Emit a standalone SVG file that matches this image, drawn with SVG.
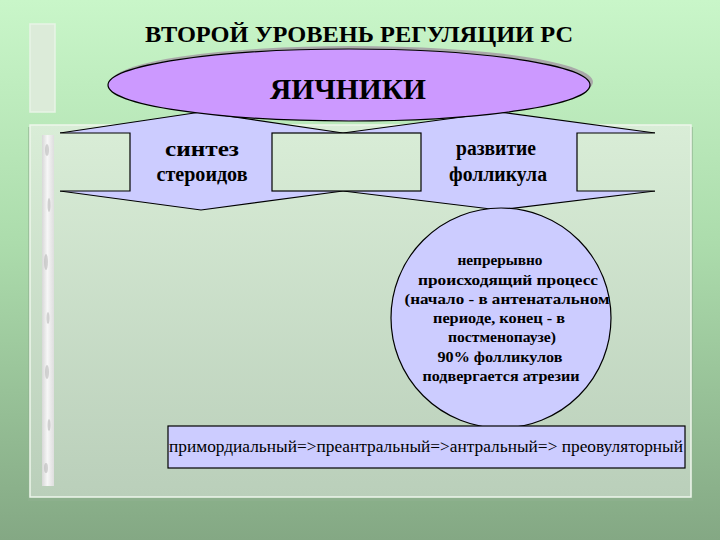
<svg xmlns="http://www.w3.org/2000/svg" width="720" height="540" viewBox="0 0 720 540">
<defs>
<linearGradient id="bg" x1="0" y1="0" x2="0" y2="1">
<stop offset="0" stop-color="#c9f6c9"/>
<stop offset="0.45" stop-color="#acdcac"/>
<stop offset="1" stop-color="#84a884"/>
</linearGradient>
<linearGradient id="panel" gradientUnits="userSpaceOnUse" x1="0" y1="125" x2="0" y2="497">
<stop offset="0" stop-color="#d9edd7"/>
<stop offset="1" stop-color="#bacfba"/>
</linearGradient>
<linearGradient id="marble" x1="0" y1="0" x2="1" y2="0">
<stop offset="0" stop-color="#d8d8d8"/>
<stop offset="0.45" stop-color="#f6f6f6"/>
<stop offset="1" stop-color="#dedede"/>
</linearGradient>
<style>
.t{font-family:"Liberation Serif","DejaVu Serif",serif;fill:#000;text-anchor:middle}
.b{font-weight:bold}
.hex{fill:#ccccff;stroke:none}
.edge{fill:none;stroke:#000;stroke-width:1.2}
.box{fill:url(#panel);stroke:#000;stroke-width:1.2}
</style>
</defs>
<rect x="0" y="0" width="720" height="540" fill="url(#bg)"/>
<rect x="30" y="24" width="25" height="88" fill="#dcebd9" stroke="#e8f4e6" stroke-width="1.5"/>
<rect x="28" y="127" width="665" height="374" fill="#8fb08f" opacity="0.6"/>
<rect x="30" y="125" width="661" height="372" fill="url(#panel)" stroke="#eef6ec" stroke-width="1.5"/>
<rect x="42" y="135" width="12" height="351" fill="url(#marble)"/>
<g fill="#b0b0b0" opacity="0.5">
<ellipse cx="47" cy="150" rx="2" ry="6"/>
<ellipse cx="49" cy="205" rx="1.5" ry="7"/>
<ellipse cx="46" cy="262" rx="2" ry="8"/>
<ellipse cx="48" cy="318" rx="1.5" ry="6"/>
<ellipse cx="47" cy="372" rx="2" ry="7"/>
<ellipse cx="49" cy="425" rx="1.5" ry="6"/>
<ellipse cx="46" cy="468" rx="2" ry="5"/>
</g>
<g id="title">
<text class="t b" x="359" y="42" font-size="23" textLength="428" lengthAdjust="spacingAndGlyphs">ВТОРОЙ УРОВЕНЬ РЕГУЛЯЦИИ  РС</text>
</g>
<g id="connectors"></g>
<g id="arrow-steroids">
<polygon class="hex" points="60,133 201,112 343,133 343,191 201,210 60,191"/>
<polyline class="edge" points="60,133 201,112 343,133"/>
<polyline class="edge" points="60,191 201,210 343,191"/>
<path class="box" d="M60 133 H130 V191 H60" style="stroke:none"/>
<path class="edge" d="M60 133 H130 V191 H60"/>
<text class="t b" x="202" y="156" font-size="20" textLength="74" lengthAdjust="spacingAndGlyphs">синтез</text>
<text class="t b" x="202" y="181" font-size="20" textLength="91" lengthAdjust="spacingAndGlyphs">стероидов</text>
</g>
<g id="arrow-follicle">
<polygon class="hex" points="343,133 499,112 655,133 655,191 499,210 343,191"/>
<polyline class="edge" points="343,133 499,112 655,133"/>
<polyline class="edge" points="343,191 499,210 655,191"/>
<path class="box" d="M655 133 H577 V191 H655" style="stroke:none"/>
<path class="edge" d="M655 133 H577 V191 H655"/>
<text class="t b" x="496" y="155" font-size="20" textLength="80" lengthAdjust="spacingAndGlyphs">развитие</text>
<text class="t b" x="498" y="181" font-size="20" textLength="98" lengthAdjust="spacingAndGlyphs">фолликула</text>
</g>
<g id="middle-box">
<rect class="box" x="272" y="133" width="149" height="58"/>
</g>
<g id="ovaries">
<ellipse cx="352" cy="82" rx="241" ry="36" fill="#a9a9a9"/>
<ellipse cx="349" cy="85" rx="241" ry="36" fill="#cc99ff" stroke="#000" stroke-width="1.2"/>
<text class="t b" x="348" y="99" font-size="30" textLength="156" lengthAdjust="spacingAndGlyphs">ЯИЧНИКИ</text>
</g>
<g id="process-circle">
<circle cx="501" cy="318" r="110" fill="#ccccff" stroke="#000" stroke-width="1.2"/>
<g class="t b" font-size="14">
<text x="500" y="265" textLength="85" lengthAdjust="spacingAndGlyphs">непрерывно</text>
<text x="508" y="285" textLength="180" lengthAdjust="spacingAndGlyphs">происходящий процесс</text>
<text x="507" y="304" textLength="205" lengthAdjust="spacingAndGlyphs">(начало - в антенатальном</text>
<text x="499" y="323" textLength="132" lengthAdjust="spacingAndGlyphs">периоде, конец - в</text>
<text x="502" y="342" textLength="108" lengthAdjust="spacingAndGlyphs">постменопаузе)</text>
<text x="500" y="362" textLength="125" lengthAdjust="spacingAndGlyphs">90% фолликулов</text>
<text x="501" y="381" textLength="157" lengthAdjust="spacingAndGlyphs">подвергается атрезии</text>
</g>
</g>
<g id="stages-box">
<rect x="168" y="426" width="517" height="42" fill="#ccccff" stroke="#000" stroke-width="1.2"/>
<text class="t" x="426" y="452" font-size="16" textLength="514" lengthAdjust="spacingAndGlyphs">примордиальный=&gt;преантральный=&gt;антральный=&gt; преовуляторный</text>
</g>
</svg>
